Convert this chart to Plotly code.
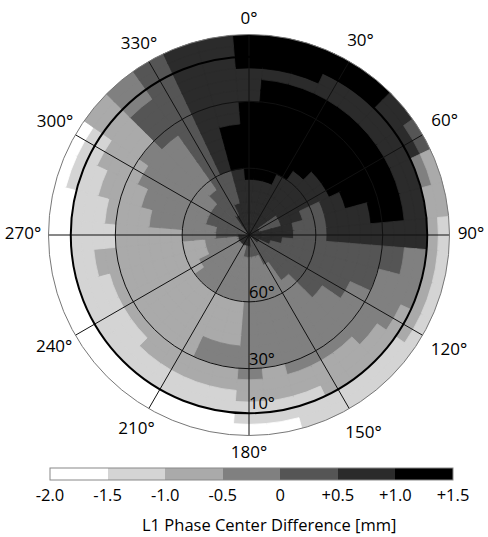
import plotly.graph_objects as go

# ---- data: level index (0..6) per azimuth sector (10 deg) and zenith band (5 deg, 0..90)
azimuths = list(range(0, 360, 10))
zenith_step = 5
level_rows = [
    "555556666666555666",  # 0
    "555556666666665666",  # 10
    "555556666666665666",  # 20
    "555555666666665566",  # 30
    "555555566666665566",  # 40
    "555555556666665555",  # 50
    "544555556666665554",  # 60
    "544554455666665532",  # 70
    "555544455556665522",  # 80
    "555544455555555521",  # 90
    "555444444444443321",  # 100
    "554444444444333321",  # 110
    "544444444433333221",  # 120
    "544444443333332211",  # 130
    "444443333333322211",  # 140
    "444333333333322211",  # 150
    "443333333333322111",  # 160
    "443333333333222110",  # 170
    "543333333333322110",  # 180
    "543333222233221100",  # 190
    "533333222233221100",  # 200
    "533333222222221100",  # 210
    "533333222222221100",  # 220
    "533333222222211100",  # 230
    "533332222222211100",  # 240
    "533322222222211100",  # 250
    "533322222222221100",  # 260
    "544333222222111100",  # 270
    "444333333222211100",  # 280
    "444433333322221110",  # 290
    "444433333332222110",  # 300
    "444433333333222222",  # 310
    "444443333334444333",  # 320
    "554444444444444444",  # 330
    "555444555555555555",  # 340
    "555555666655555555",  # 350
]
level_edges = [-2.0, -1.5, -1.0, -0.5, 0.0, 0.5, 1.0, 1.5]
level_colors = ["#ffffff", "#d4d4d4", "#aaaaaa", "#808080", "#555555", "#2b2b2b", "#000000"]
tick_labels = ["-2.0", "-1.5", "-1.0", "-0.5", "0", "+0.5", "+1.0", "+1.5"]
angle_ticks = list(range(0, 360, 30))
angle_labels = [f"{a}°" for a in angle_ticks]
elev_labels = ["60°", "30°", "10°"]
elev_rings = [30, 60, 80]
cbar_title = "L1 Phase Center Difference [mm]"

FONT = "Open Sans"
W, H = 488, 537
CX, CY, R = 249.0, 235.0, 200.5      # plot centre / rim radius in px
# distance (px) of each azimuth label centre from the plot centre
label_r_px = [215, 223, 226, 222, 231, 229, 219, 225, 225, 226, 224, 220]

theta, base, rlen, vals = [], [], [], []
for az, row in zip(azimuths, level_rows):
    for i, ch in enumerate(row):
        k = int(ch)
        theta.append(az)
        base.append(i * zenith_step)
        rlen.append(zenith_step * 1.1)
        vals.append((level_edges[k] + level_edges[k + 1]) / 2)

n = len(level_colors)
cscale = []
for k, c in enumerate(level_colors):
    cscale.append([k / n, c])
    cscale.append([(k + 1) / n, c])

fig = go.Figure()
fig.add_trace(go.Barpolar(
    theta=theta, r=rlen, base=base, width=10.6,
    marker=dict(
        color=vals, colorscale=cscale, cmin=level_edges[0], cmax=level_edges[-1],
        line=dict(width=0.8, color=vals, colorscale=cscale,
                  cmin=level_edges[0], cmax=level_edges[-1]),
        showscale=True,
        colorbar=dict(
            orientation="h", thickness=12, lenmode="pixels", len=403,
            x=251.5 / W, xanchor="center", y=(H - 468) / H, yanchor="top",
            ypad=0, xpad=0, outlinecolor="#888888", outlinewidth=1,
            tickvals=level_edges, ticktext=tick_labels, ticks="",
            tickfont=dict(family=FONT, size=16.5, color="black"),
        ),
    ),
    hoverinfo="skip", subplot="polar",
))

# elevation ring labels
fig.add_trace(go.Scatterpolar(
    r=elev_rings, theta=[180] * 3, mode="text", text=elev_labels,
    textposition="top right", textfont=dict(family=FONT, size=16.5, color="black"),
    subplot="polar2", hoverinfo="skip", showlegend=False,
))
# azimuth labels on a larger, invisible polar frame sharing the same centre
RL = 235.0
fig.add_trace(go.Scatterpolar(
    r=[90 * d / R for d in label_r_px], theta=angle_ticks, mode="text", text=angle_labels,
    textposition="middle center", textfont=dict(family=FONT, size=17, color="black"),
    subplot="polar4", hoverinfo="skip", showlegend=False, cliponaxis=False,
))
fig.add_trace(go.Scatterpolar(r=[], theta=[], subplot="polar3", showlegend=False, hoverinfo="skip"))

dom = dict(x=[(CX - R) / W, (CX + R) / W], y=[(H - CY - R) / H, (H - CY + R) / H])
dom4 = dict(x=[(CX - RL) / W, (CX + RL) / W], y=[(H - CY - RL) / H, (H - CY + RL) / H])

hidden_ang = dict(rotation=90, direction="clockwise", showgrid=False, showline=False,
                  showticklabels=False, ticks="")
hidden_rad = dict(range=[0, 90], showgrid=False, showline=False, showticklabels=False, ticks="")

fig.update_layout(
    width=W, height=H, margin=dict(l=0, r=0, t=0, b=0),
    paper_bgcolor="white", showlegend=False,
    polar=dict(domain=dom, bgcolor="white", angularaxis=hidden_ang, radialaxis=hidden_rad),
    polar2=dict(
        domain=dom, bgcolor="rgba(0,0,0,0)",
        angularaxis=dict(rotation=90, direction="clockwise", tickmode="array",
                         tickvals=angle_ticks, showticklabels=False,
                         showgrid=True, gridcolor="#111111", gridwidth=0.8,
                         showline=True, linecolor="#777777", linewidth=1, ticks=""),
        radialaxis=dict(range=[0, 90], tickvals=[30, 60], showticklabels=False, ticks="",
                        showgrid=True, gridcolor="#111111", gridwidth=0.8, showline=False),
    ),
    polar3=dict(
        domain=dom, bgcolor="rgba(0,0,0,0)",
        angularaxis=dict(rotation=90, direction="clockwise", showgrid=False, showline=False,
                         showticklabels=False, ticks=""),
        radialaxis=dict(range=[0, 90], tickvals=[80], showticklabels=False, ticks="",
                        showgrid=True, gridcolor="#000000", gridwidth=1.6, showline=False),
    ),
    polar4=dict(
        domain=dom4, bgcolor="rgba(0,0,0,0)",
        angularaxis=dict(rotation=90, direction="clockwise", showgrid=False, showline=False,
                         showticklabels=False, ticks=""),
        radialaxis=dict(range=[0, 90 * RL / R], showgrid=False, showline=False,
                        showticklabels=False, ticks=""),
    ),
    annotations=[dict(text=cbar_title, xref="paper", yref="paper",
                      x=268.5 / W, y=(H - 524) / H, xanchor="center", yanchor="middle",
                      showarrow=False, font=dict(family=FONT, size=16.5, color="black"))],
)

fig.write_html("out.html")
